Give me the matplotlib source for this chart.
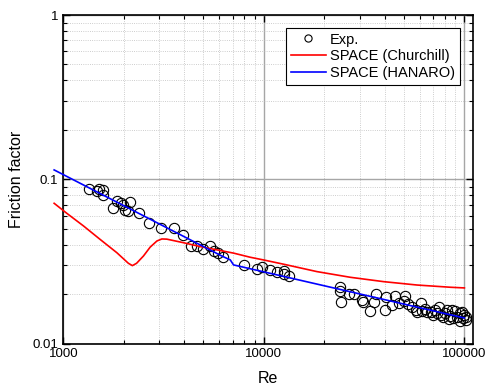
import numpy as np
import matplotlib.pyplot as plt
from matplotlib.ticker import FixedLocator, FixedFormatter, LogLocator, NullFormatter

plt.rcParams['font.family'] = ['Liberation Sans', 'DejaVu Sans']

re_exp = [1348, 1468, 1512, 1584, 1584, 1776, 1844, 1930, 1994, 2032, 2153, 2111,
          2374, 2688, 3074, 3579, 3959, 4315, 4652, 5000, 5370, 5623, 5920, 6234,
          7981, 9238, 9784, 10760, 11630, 12540, 12640, 13290,
          23880, 24070, 24350, 26480, 28270, 30900, 31250, 33670, 35580, 36410,
          40150, 40610, 43620, 44870, 47320, 50510, 49940, 55070, 57220, 60730,
          61790, 65440, 68110, 71740, 74520, 76430, 80480, 82060, 85240, 87230,
          90290, 92400, 95620, 98630, 100100, 94850, 83580,
          70110, 78640, 88230, 102400, 63950, 52590, 73390, 97830, 58350, 102400]
f_exp = [0.0873, 0.0849, 0.0873, 0.0861, 0.0797, 0.0664, 0.0741, 0.0721, 0.0698,
         0.0650, 0.0731, 0.0641, 0.0621, 0.0540, 0.0503, 0.0503, 0.0455, 0.0393,
         0.0390, 0.0376, 0.0390, 0.0367, 0.0357, 0.0337,
         0.0301, 0.0283, 0.0291, 0.0279, 0.0272, 0.0277, 0.0265, 0.0258,
         0.0221, 0.0210, 0.0179, 0.0200, 0.0200, 0.0184, 0.0179, 0.0158, 0.0178,
         0.0200, 0.0161, 0.0192, 0.0172, 0.0194, 0.0177, 0.0196, 0.0182, 0.0166,
         0.0161, 0.0177, 0.0158, 0.0155, 0.0156, 0.0160, 0.0166, 0.0150, 0.0153,
         0.0160, 0.0148, 0.0159, 0.0157, 0.0146, 0.0153, 0.0143, 0.0149, 0.0137,
         0.0141, 0.0149, 0.0145, 0.0143, 0.0146, 0.0162, 0.0174, 0.0154, 0.0156,
         0.0156, 0.0139]

# SPACE (Churchill)
re_ch = [900, 1040, 1260, 1520, 1850, 2110, 2210, 2320, 2510, 2710, 2930, 3100,
         3280, 3970, 4820, 7070, 8560, 9930, 12540, 18400, 27000, 39600, 58100,
         85300, 100000]
f_ch = [0.0714, 0.0621, 0.0520, 0.0432, 0.0357, 0.0308, 0.0298, 0.0308, 0.0341,
        0.0386, 0.0421, 0.0433, 0.0432, 0.0411, 0.0389, 0.0355, 0.0335, 0.0323,
        0.0304, 0.0274, 0.0253, 0.0238, 0.0227, 0.0220, 0.0218]

# SPACE (HANARO)
re_ha = [900, 6230, 6800, 7060, 100000]
f_ha = [0.114, 0.0339, 0.0323, 0.0301, 0.0143]

fig = plt.figure(figsize=(4.87, 3.92), dpi=100)
ax = fig.add_axes([0.13, 0.1237, 0.8406, 0.838])

ax.plot(re_exp, f_exp, 'o', mfc='none', mec='black', ms=7.4, mew=0.8,
        label='Exp.', zorder=3)
ax.plot(re_ch, f_ch, color='red', lw=1.2, label='SPACE (Churchill)', clip_on=False, zorder=4)
ax.plot(re_ha, f_ha, color='blue', lw=1.2, label='SPACE (HANARO)', clip_on=False, zorder=5)

ax.set_xscale('log')
ax.set_yscale('log')
ax.set_xlim(1000, 110000)
ax.set_ylim(0.01, 1)

ax.xaxis.set_major_locator(FixedLocator([1000, 10000, 100000]))
ax.xaxis.set_major_formatter(FixedFormatter(['1000', '10000', '100000']))
ax.yaxis.set_major_locator(FixedLocator([0.01, 0.1, 1]))
ax.yaxis.set_major_formatter(FixedFormatter(['0.01', '0.1', '1']))
ax.xaxis.set_minor_locator(LogLocator(base=10, subs=np.arange(2, 10)))
ax.yaxis.set_minor_locator(LogLocator(base=10, subs=np.arange(2, 10)))
ax.xaxis.set_minor_formatter(NullFormatter())
ax.yaxis.set_minor_formatter(NullFormatter())

ax.tick_params(which='both', direction='in', top=True, right=True, labelsize=9.5)
ax.tick_params(which='major', length=5, width=1)
ax.tick_params(which='minor', length=3, width=0.8)

ax.grid(which='major', color='#a6a6a6', lw=1, ls='-')
ax.grid(which='minor', color='#bdbdbd', lw=0.6, ls=':')
ax.set_axisbelow(True)
for s in ax.spines.values():
    s.set_linewidth(1.2)

ax.set_xlabel('Re', fontsize=11.5, labelpad=8)
ax.set_ylabel('Friction factor', fontsize=11.5, labelpad=6)

leg = ax.legend(loc='upper right', fontsize=10.5, frameon=True, fancybox=False,
                edgecolor='black', framealpha=1, handlelength=2.4, markerscale=0.7,
                borderaxespad=0.9, labelspacing=0.2, borderpad=0.3,
                handletextpad=0.3)
leg.get_frame().set_linewidth(0.8)

fig.savefig('out.png', dpi=100)
